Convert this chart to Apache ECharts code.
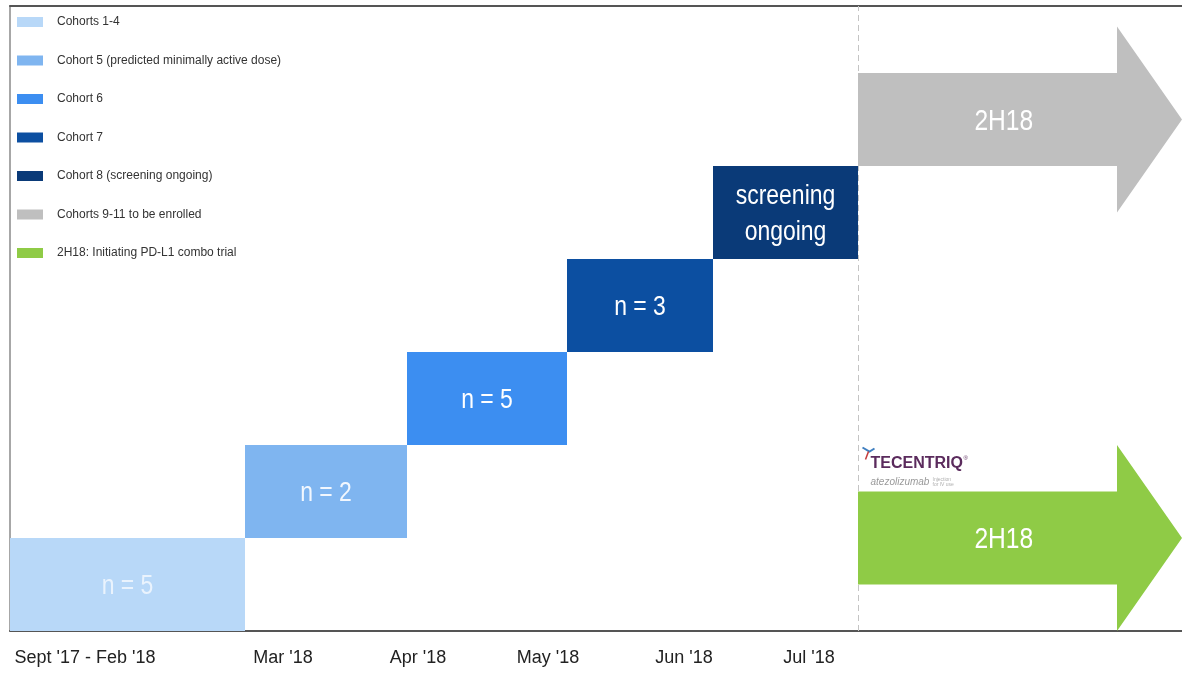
<!DOCTYPE html>
<html>
<head>
<meta charset="utf-8">
<script src="https://cdn.jsdelivr.net/npm/echarts@6/dist/echarts.min.js"></script>
<style>
  html, body { margin: 0; padding: 0; background: #ffffff; }
  #chart { width: 1182px; height: 673px; }
</style>
</head>
<body>
<div id="chart"></div>
<script>
// Timeline periods shown along the bottom axis
const periodLabels = ["Sept '17 - Feb '18", "Mar '18", "Apr '18", "May '18", "Jun '18", "Jul '18"];
const periodTicks = [7.5, 27.3, 40.8, 53.8, 67.4, 79.9];

// Dose-escalation cohorts: each occupies one step of the staircase
const cohortNames = [
  'Cohorts 1-4',
  'Cohort 5 (predicted minimally active dose)',
  'Cohort 6',
  'Cohort 7',
  'Cohort 8 (screening ongoing)'
];
const cohortStart = [0, 23.5, 39.7, 55.7, 70.3];
const cohortEnd = [23.5, 39.7, 55.7, 70.3, 84.8];
const cohortLevel = [0, 1, 2, 3, 4];
const cohortText = ['n = 5', 'n = 2', 'n = 5', 'n = 3', 'screening\nongoing'];

// Upcoming milestones drawn as arrows
const outlookNames = ['Cohorts 9-11 to be enrolled', '2H18: Initiating PD-L1 combo trial'];
const outlookStart = [84.8, 84.8];
const outlookEnd = [117.2, 117.2];
const outlookLevel = [5, 0.5];
const outlookText = ['2H18', '2H18'];

const X_MAX = 117.2;
const Y_MAX = 6.72;
const SANS = "'Liberation Sans', Arial, Helvetica, sans-serif";
const CONDENSE = 0.82; // horizontal squeeze for the narrow lettering inside marks

const cohortColors = ['#b8d8f8', '#7fb5f0', '#3c8ef1', '#0c4fa1', '#0a3a78'];
const cohortTextColors = ['#eaf3fd', '#f2f7fe', '#ffffff', '#ffffff', '#ffffff'];
const outlookColors = ['#bfbfbf', '#8fcb46'];

function renderStep(api, text, textColor) {
  const x0 = api.value(0), x1 = api.value(1), lvl = api.value(2);
  const tl = api.coord([x0, lvl + 1]);
  const br = api.coord([x1, lvl]);
  return {
    type: 'group',
    children: [
      { type: 'rect',
        shape: { x: tl[0], y: tl[1], width: br[0] - tl[0], height: br[1] - tl[1] },
        style: { fill: api.visual('color') } },
      { type: 'text',
        x: (tl[0] + br[0]) / 2, y: (tl[1] + br[1]) / 2 + 2,
        scaleX: CONDENSE,
        style: { text: text, fill: textColor, font: '28px ' + SANS,
                 align: 'center', verticalAlign: 'middle', lineHeight: 36 } }
    ]
  };
}

// Arrow: body is one level tall, head flares half a level on each side
const HEAD_LEN = 6.5;
function renderArrow(api, text) {
  const x0 = api.value(0), x1 = api.value(1), lvl = api.value(2);
  const hs = x1 - HEAD_LEN;
  const pts = [
    [x0, lvl + 1], [hs, lvl + 1], [hs, lvl + 1.5], [x1, lvl + 0.5],
    [hs, lvl - 0.5], [hs, lvl], [x0, lvl]
  ].map(p => api.coord(p));
  const c = api.coord([x0 + 0.45 * (x1 - x0), lvl + 0.5]);
  return {
    type: 'group',
    children: [
      { type: 'polygon', shape: { points: pts }, style: { fill: api.visual('color') } },
      { type: 'text', x: c[0], y: c[1] + 2, scaleX: CONDENSE,
        style: { text: text, fill: '#ffffff', font: '30px ' + SANS,
                 align: 'center', verticalAlign: 'middle' } }
    ]
  };
}

const series = [];
cohortNames.forEach((name, i) => {
  series.push({
    type: 'custom',
    name: name,
    itemStyle: { color: cohortColors[i] },
    encode: { x: [0, 1], y: 2 },
    data: [[cohortStart[i], cohortEnd[i], cohortLevel[i]]],
    renderItem: (params, api) => renderStep(api, cohortText[i], cohortTextColors[i]),
    z: 3
  });
});
outlookNames.forEach((name, i) => {
  series.push({
    type: 'custom',
    name: name,
    itemStyle: { color: outlookColors[i] },
    encode: { x: [0, 1], y: 2 },
    data: [[outlookStart[i], outlookEnd[i], outlookLevel[i]]],
    renderItem: (params, api) => renderArrow(api, outlookText[i]),
    z: 3
  });
});
// Dashed divider between completed cohorts and the outlook
series[series.length - 1].markLine = {
  silent: true,
  symbol: 'none',
  label: { show: false },
  lineStyle: { type: [6, 4], color: '#c4c4c4', width: 1 },
  data: [{ xAxis: outlookStart[0] }],
  z: 1
};

const chart = echarts.init(document.getElementById('chart'), null, { renderer: 'canvas' });
chart.setOption({
  animation: false,
  backgroundColor: '#ffffff',
  grid: { left: 10, right: 0, top: 6, bottom: 42 },
  legend: {
    orient: 'vertical',
    left: 12,
    top: 9,
    icon: 'rect',
    itemWidth: 26,
    itemHeight: 10,
    itemGap: 22.5,
    selectedMode: false,
    data: cohortNames.concat(outlookNames),
    textStyle: { fontSize: 12, color: '#333333', fontFamily: SANS, lineHeight: 16, padding: [0, 0, 0, 9] }
  },
  xAxis: [
    {
      type: 'value', min: 0, max: X_MAX,
      axisLine: { show: true, onZero: false, lineStyle: { color: '#555555', width: 2 } },
      axisTick: { show: false },
      splitLine: { show: false },
      axisLabel: {
        customValues: periodTicks,
        formatter: v => {
          const k = periodTicks.findIndex(t => Math.abs(t - v) < 1e-6);
          return k >= 0 ? periodLabels[k] : '';
        },
        margin: 18,
        color: '#222222',
        fontSize: 18,
        fontFamily: SANS
      }
    },
    {
      type: 'value', min: 0, max: X_MAX, position: 'top',
      axisLine: { show: true, onZero: false, lineStyle: { color: '#555555', width: 2 } },
      axisTick: { show: false }, axisLabel: { show: false }, splitLine: { show: false }
    }
  ],
  yAxis: {
    type: 'value', min: 0, max: Y_MAX,
    axisLine: { show: true, onZero: false, lineStyle: { color: '#8a8a8a', width: 1.5 } },
    axisTick: { show: false }, axisLabel: { show: false }, splitLine: { show: false }
  },
  graphic: [
    {
      type: 'group', left: 860, top: 445, z: 10,
      children: [
        { type: 'polyline', shape: { points: [[2, 2], [9, 6], [14, 3]] },
          style: { stroke: '#3f7fc0', lineWidth: 2, fill: null } },
        { type: 'polyline', shape: { points: [[8, 6], [5, 14]] },
          style: { stroke: '#c43c3c', lineWidth: 1.5, fill: null } },
        { type: 'text', x: 10, y: 10,
          style: { text: 'TECENTRIQ', font: 'bold 16px ' + SANS, fill: '#5b2b5d' } },
        { type: 'text', x: 103, y: 10,
          style: { text: '®', font: '6px sans-serif', fill: '#5b2b5d' } },
        { type: 'text', x: 10, y: 32,
          style: { text: 'atezolizumab', font: 'italic 10px ' + SANS, fill: '#9a9a9a' } },
        { type: 'text', x: 72, y: 32,
          style: { text: 'Injection\nfor IV use', font: '5px sans-serif', fill: '#b0b0b0', lineHeight: 5 } }
      ]
    }
  ],
  series: series
});
</script>
</body>
</html>
